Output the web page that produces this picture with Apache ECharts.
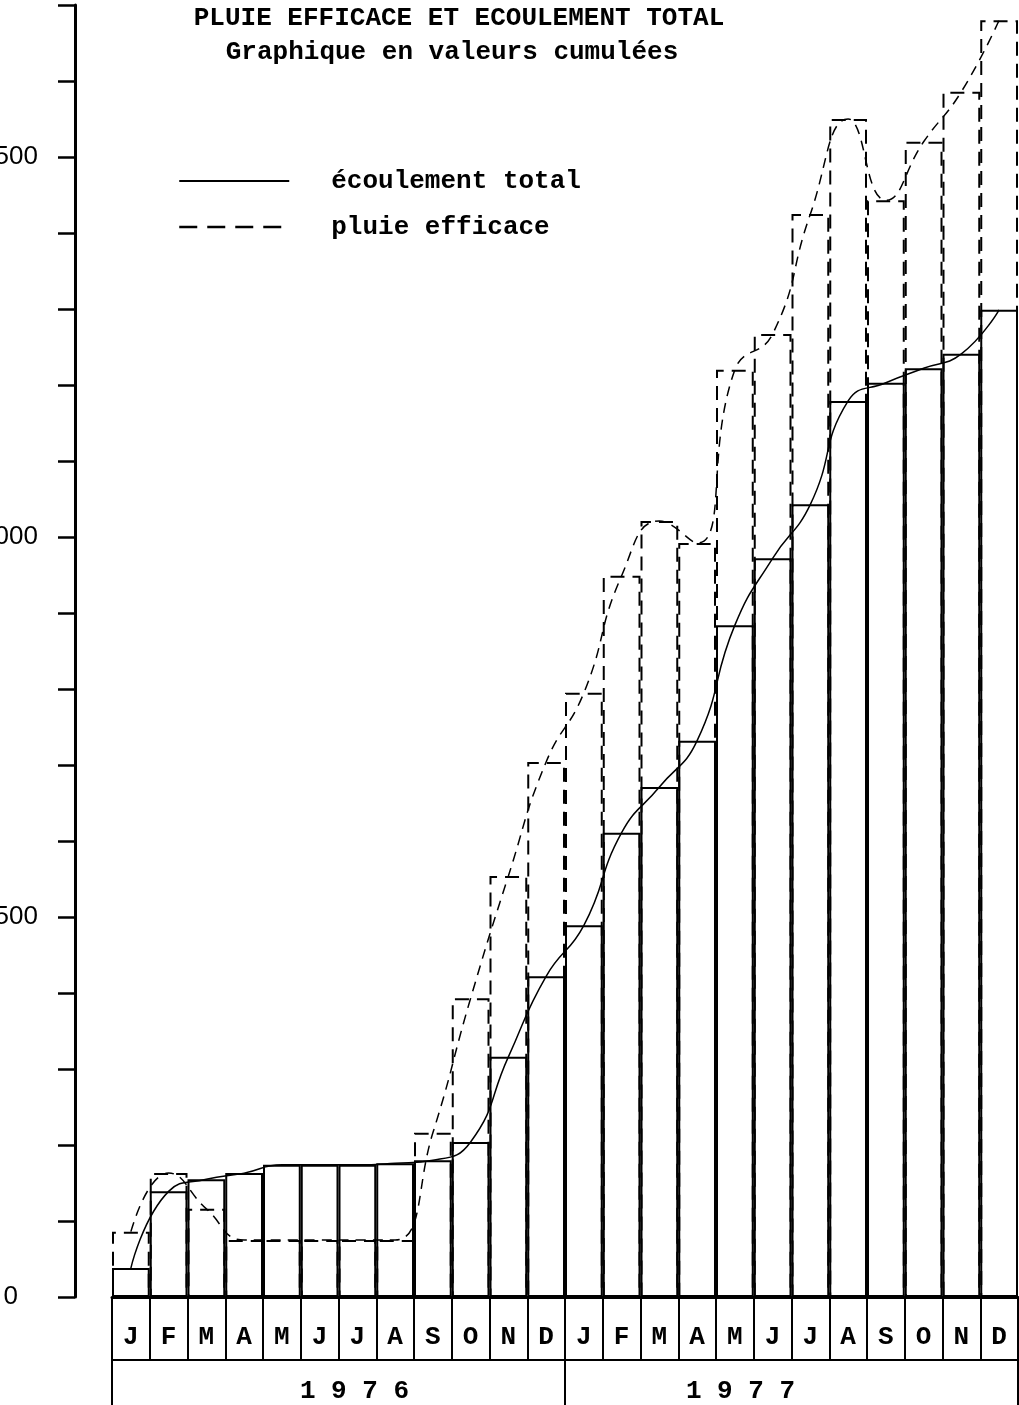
<!DOCTYPE html>
<html>
<head>
<meta charset="utf-8">
<title>Pluie efficace et écoulement total</title>
<script src="https://cdn.jsdelivr.net/npm/echarts@6/dist/echarts.min.js"></script>
<style>
  html, body { margin: 0; padding: 0; background: #fff; }
  #chart { width: 1019px; height: 1405px; }
</style>
</head>
<body>
<div id="chart"></div>
<script>
'use strict';

// mois (lettres) et années
var monthLetters = ['J', 'F', 'M', 'A', 'M', 'J', 'J', 'A', 'S', 'O', 'N', 'D',
                    'J', 'F', 'M', 'A', 'M', 'J', 'J', 'A', 'S', 'O', 'N', 'D'];
var years = ['1 9 7 6', '1 9 7 7'];

// valeurs cumulées (mm)
var ecoulementTotal = [38, 139, 155, 163, 174, 174, 174, 176, 180, 204, 316, 422,
                       489, 611, 671, 732, 884, 972, 1043, 1179, 1203, 1222, 1241, 1299];
var pluieEfficace = [86, 163, 116, 75, 75, 75, 75, 75, 216, 393, 554, 704,
                     795, 949, 1021, 992, 1220, 1267, 1425, 1550, 1443, 1520, 1586, 1680];

// graduations de l'axe vertical
var yTickLabels = [0, 500, 1000, 1500];

var monoFont = 'Liberation Mono';

$init();

function $init() {
  var chart = echarts.init(document.getElementById('chart'));

  var categories = monthLetters.map(function (_m, _i) {
    return (_i < 12 ? '1976-' : '1977-') + (_i % 12 + 1);
  });

  var option = {
    animation: false,
    backgroundColor: '#fff',
    graphic: [{
      type: 'text',
      x: 459,
      y: 18,
      style: {
        text: 'PLUIE EFFICACE ET ECOULEMENT TOTAL',
        align: 'center',
        verticalAlign: 'middle',
        fontFamily: monoFont,
        fontWeight: 'bold',
        fontSize: 26,
        fill: '#000'
      }
    }, {
      type: 'text',
      x: 452,
      y: 52,
      style: {
        text: 'Graphique en valeurs cumulées',
        align: 'center',
        verticalAlign: 'middle',
        fontFamily: monoFont,
        fontWeight: 'bold',
        fontSize: 26,
        fill: '#000'
      }
    }],
    legend: {
      orient: 'vertical',
      left: 173,
      top: 163,
      itemWidth: 110,
      itemHeight: 20,
      itemGap: 20,
      itemStyle: { opacity: 0 },
      textStyle: {
        fontFamily: monoFont,
        fontWeight: 'bold',
        fontSize: 26,
        lineHeight: 26,
        color: '#000',
        padding: [0, 0, 0, 37]
      },
      data: [{
        name: 'écoulement total',
        lineStyle: { width: 2, type: 'solid', color: '#000' }
      }, {
        name: 'pluie efficace',
        lineStyle: { width: 2.5, type: [18, 10], color: '#000' }
      }]
    },
    grid: {
      left: 112,
      right: 1,
      top: 5,
      bottom: 108,
      containLabel: false,
      outerBoundsMode: 'none'
    },
    xAxis: [{
      type: 'category',
      data: categories,
      boundaryGap: true,
      position: 'bottom',
      axisLine: { show: true, lineStyle: { color: '#000', width: 3 } },
      axisTick: { show: true, interval: 0, length: 63, lineStyle: { color: '#000', width: 2 } },
      axisLabel: {
        interval: 0,
        margin: 27,
        fontFamily: monoFont,
        fontWeight: 'bold',
        fontSize: 26,
        color: '#000',
        formatter: function (_v, _i) { return monthLetters[_i]; }
      },
      splitLine: { show: false }
    }, {
      type: 'category',
      data: years,
      boundaryGap: true,
      position: 'bottom',
      offset: 63,
      axisLine: { show: true, lineStyle: { color: '#000', width: 2 } },
      axisTick: { show: true, interval: 0, length: 45, lineStyle: { color: '#000', width: 2 } },
      axisLabel: {
        interval: 0,
        margin: 18,
        color: '#000',
        formatter: function (_v, _i) { return _i === 0 ? '{a|' + _v + '}' : '{b|' + _v + '}'; },
        rich: {
          a: { fontFamily: monoFont, fontWeight: 'bold', fontSize: 26, color: '#000', padding: [0, 0, 0, 32] },
          b: { fontFamily: monoFont, fontWeight: 'bold', fontSize: 26, color: '#000', padding: [0, 102, 0, 0] }
        }
      },
      splitLine: { show: false }
    }],
    yAxis: {
      type: 'value',
      min: 0,
      max: 1700,
      interval: 100,
      offset: 37,
      axisLine: { show: true, lineStyle: { color: '#000', width: 3 } },
      axisTick: { show: true, length: 17, lineStyle: { color: '#000', width: 2.5 } },
      splitLine: { show: false },
      axisLabel: {
        margin: 37,
        fontFamily: 'Liberation Sans',
        fontSize: 26,
        color: '#000',
        formatter: function (_v) {
          if (yTickLabels.indexOf(_v) < 0) return '';
          if (_v === 0) return '{z|0}';
          return String(_v);
        },
        rich: {
          z: { fontFamily: 'Liberation Sans', fontSize: 26, color: '#000', padding: [0, 20, 0, 0] }
        }
      }
    },
    series: [{
      name: 'pluie efficace (mois)',
      type: 'bar',
      data: pluieEfficace,
      barCategoryGap: '0%',
      barGap: '-100%',
      z: 2,
      itemStyle: {
        color: 'rgba(0,0,0,0)',
        borderColor: '#000',
        borderWidth: 2,
        borderType: [14, 8]
      }
    }, {
      name: 'écoulement total (mois)',
      type: 'bar',
      data: ecoulementTotal,
      barCategoryGap: '0%',
      barGap: '-100%',
      z: 3,
      itemStyle: {
        color: 'rgba(0,0,0,0)',
        borderColor: '#000',
        borderWidth: 2
      }
    }, {
      name: 'écoulement total',
      type: 'line',
      data: ecoulementTotal,
      smooth: 0.5,
      symbol: 'none',
      z: 4,
      lineStyle: { color: '#000', width: 1.5 },
      itemStyle: { color: '#000' }
    }, {
      name: 'pluie efficace',
      type: 'line',
      data: pluieEfficace,
      smooth: 0.5,
      symbol: 'none',
      z: 4,
      lineStyle: { color: '#000', width: 1.5, type: [10, 7] },
      itemStyle: { color: '#000' }
    }]
  };

  chart.setOption(option);
}
</script>
</body>
</html>
